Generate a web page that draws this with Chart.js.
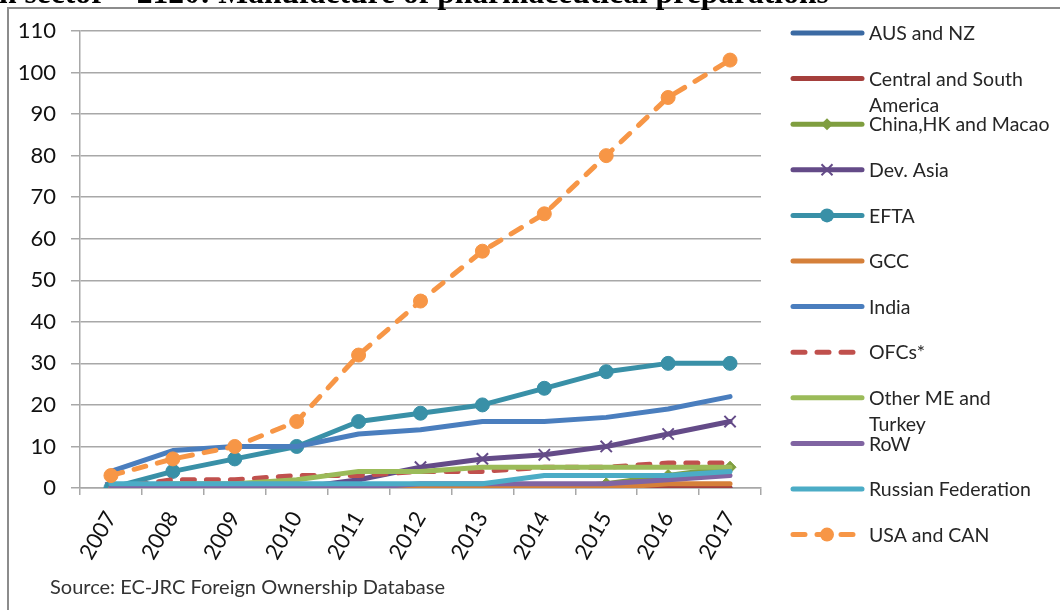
<!DOCTYPE html>
<html>
<head>
<meta charset="utf-8">
<script src="https://cdn.jsdelivr.net/npm/chart.js@4.4.1/dist/chart.umd.min.js"></script>
<style>
  html, body { margin: 0; padding: 0; background: #fff; }
  #wrap { position: relative; width: 1060px; height: 610px; overflow: hidden; }
</style>
</head>
<body>
<div id="wrap"><canvas id="fdiChart" width="1060" height="610"></canvas></div>
<script>
// years on the x axis
const years = ['2007', '2008', '2009', '2010', '2011', '2012', '2013', '2014', '2015', '2016', '2017'];

// series names (\n = where the legend wraps)
const seriesNames = ['AUS and NZ', 'Central and South\nAmerica', 'China,HK and Macao', 'Dev. Asia', 'EFTA', 'GCC',
  'India', 'OFCs*', 'Other ME and\nTurkey', 'RoW', 'Russian Federation', 'USA and CAN'];

// values
const ausNz     = [0, 0, 0, 0, 0, 0, 0, 0, 0, 0, 0];
const centSouth = [0, 0, 0, 0, 0, 0, 0, 0, 0, 0, 0];
const chinaHk   = [0, 0, 0, 0, 0, 0, 0, 0, 1, 3, 5];
const devAsia   = [0, 0, 0, 0, 2, 5, 7, 8, 10, 13, 16];
const efta      = [0, 4, 7, 10, 16, 18, 20, 24, 28, 30, 30];
const gcc       = [0, 0, 0, 0, 0, 0, 0, 0, 0, 1, 1];
const india     = [4, 9, 10, 10, 13, 14, 16, 16, 17, 19, 22];
const ofcs      = [0, 2, 2, 3, 3, 4, 4, 5, 5, 6, 6];
const otherMe   = [0, 1, 1, 2, 4, 4, 5, 5, 5, 5, 5];
const row       = [0, 0, 0, 0, 0, 1, 1, 1, 1, 2, 3];
const russia    = [1, 1, 1, 1, 1, 1, 1, 3, 3, 3, 4];
const usaCan    = [3, 7, 10, 16, 32, 45, 57, 66, 80, 94, 103];

const yTicks = [0, 10, 20, 30, 40, 50, 60, 70, 80, 90, 100, 110];

const allValues = [ausNz, centSouth, chinaHk, devAsia, efta, gcc, india, ofcs, otherMe, row, russia, usaCan];
const colors = ['#3B6AA3', '#A53F3C', '#7F9E3F', '#644B88', '#3990A7', '#D5803A',
  '#4A7EBE', '#C0504D', '#9BBB59', '#8064A2', '#4BACC6', '#F79646'];
const markers = [null, null, 'rectRot', 'crossRot', 'circle', null, null, null, null, null, null, 'circle'];
const dashed = [false, false, false, false, false, false, false, true, false, false, false, true];

const gridGray = '#A8A8A8';
const textFont = 'Lato, "Open Sans", sans-serif';

const datasets = allValues.map((vals, i) => ({
  label: seriesNames[i].replace('\n', ' '),
  data: vals,
  borderColor: colors[i],
  backgroundColor: colors[i],
  borderWidth: 5,
  borderDash: dashed[i] ? [12, 12] : [],
  borderCapStyle: 'round',
  borderJoinStyle: 'round',
  pointStyle: markers[i] || 'circle',
  pointRadius: markers[i] === 'circle' ? 7 : (markers[i] === 'rectRot' ? 6 : (markers[i] === 'crossRot' ? 8 : 0)),
  pointBorderWidth: markers[i] === 'crossRot' ? 2 : 1,
  pointBackgroundColor: colors[i],
  pointBorderColor: colors[i],
  tension: 0,
  order: 20 - i
}));

function drawMarker(ctx, style, color, x, y) {
  ctx.save();
  ctx.fillStyle = color;
  ctx.strokeStyle = color;
  ctx.setLineDash([]);
  if (style === 'circle') {
    ctx.beginPath(); ctx.arc(x, y, 7, 0, Math.PI * 2); ctx.fill();
  } else if (style === 'rectRot') {
    ctx.beginPath(); ctx.moveTo(x, y - 6); ctx.lineTo(x + 6, y); ctx.lineTo(x, y + 6); ctx.lineTo(x - 6, y); ctx.closePath(); ctx.fill();
  } else if (style === 'crossRot') {
    ctx.lineWidth = 2;
    ctx.beginPath(); ctx.moveTo(x - 5.5, y - 5.5); ctx.lineTo(x + 5.5, y + 5.5);
    ctx.moveTo(x + 5.5, y - 5.5); ctx.lineTo(x - 5.5, y + 5.5); ctx.stroke();
  }
  ctx.restore();
}

// frame, cut-off title, legend and source note
const extras = {
  id: 'extras',
  beforeDraw(chart) {
    const ctx = chart.ctx;
    ctx.save();
    ctx.fillStyle = '#fff';
    ctx.fillRect(0, 0, chart.width, chart.height);
    ctx.strokeStyle = '#8C8C8C';
    ctx.lineWidth = 2;
    ctx.beginPath();
    ctx.moveTo(8, 620); ctx.lineTo(8, 8); ctx.lineTo(1070, 8);
    ctx.stroke();
    ctx.restore();
  },
  afterDraw(chart) {
    const ctx = chart.ctx;
    ctx.save();
    // title, mostly outside the picture
    const title = 'n sector \u2013 2120: Manufacture of pharmaceutical preparations';
    ctx.fillStyle = '#000';
    ctx.textBaseline = 'alphabetic';
    ctx.textAlign = 'left';
    let fs = 24;
    ctx.font = 'bold ' + fs + 'px "Liberation Serif", serif';
    fs = fs * 830 / ctx.measureText(title).width;
    ctx.font = 'bold ' + fs.toFixed(1) + 'px "Liberation Serif", serif';
    ctx.fillText(title, -1, 3);

    // legend
    ctx.font = '19.5px ' + textFont;
    ctx.textBaseline = 'middle';
    chart.data.datasets.forEach((ds, i) => {
      const y = 33 + i * 45.6;
      ctx.save();
      ctx.strokeStyle = ds.borderColor;
      ctx.lineWidth = 5;
      ctx.lineCap = 'round';
      ctx.setLineDash(dashed[i] ? [12, 12] : []);
      ctx.beginPath(); ctx.moveTo(793, y); ctx.lineTo(862, y); ctx.stroke();
      ctx.restore();
      if (markers[i]) drawMarker(ctx, markers[i], ds.borderColor, 827, y);
      ctx.fillStyle = '#262626';
      seriesNames[i].split('\n').forEach((line, k) => ctx.fillText(line, 869, y + 1 + k * 26));
    });

    // source
    ctx.font = '20px ' + textFont;
    ctx.fillStyle = '#333';
    ctx.fillText('Source: EC-JRC Foreign Ownership Database', 50, 588);
    ctx.restore();
  }
};

new Chart(document.getElementById('fdiChart'), {
  type: 'line',
  data: { labels: years, datasets: datasets },
  plugins: [extras],
  options: {
    responsive: false,
    animation: false,
    devicePixelRatio: 1,
    layout: { padding: { left: 0, right: 299, top: 31, bottom: 0 } },
    plugins: {
      legend: { display: false },
      tooltip: { enabled: false },
      title: { display: false }
    },
    scales: {
      x: {
        type: 'category',
        offset: true,
        afterFit: (s) => { s.height = 122; },
        grid: { drawOnChartArea: false, drawTicks: true, tickLength: 7, color: gridGray, lineWidth: 1.5, offset: true },
        border: { display: true, color: gridGray, width: 1.5 },
        ticks: {
          minRotation: 60, maxRotation: 60, padding: 12,
          color: '#111', font: { family: textFont, size: 22 }
        }
      },
      y: {
        min: 0, max: 110,
        afterFit: (s) => { s.width = 80; },
        afterBuildTicks: (s) => { s.ticks = yTicks.map(v => ({ value: v })); },
        grid: { color: gridGray, lineWidth: 1.5, tickLength: 9 },
        border: { display: true, color: gridGray, width: 1.5 },
        ticks: { padding: 15, color: '#111', font: { family: textFont, size: 22 } }
      }
    }
  }
});
</script>
</body>
</html>
